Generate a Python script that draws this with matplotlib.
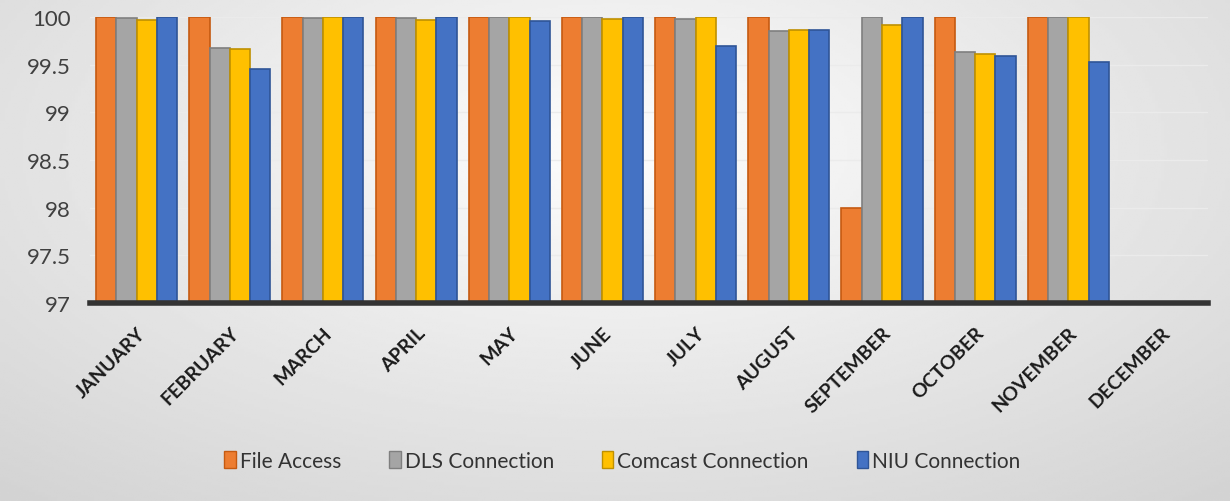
import numpy as np
import matplotlib.pyplot as plt
from matplotlib.patches import Patch

# ----------- Data ------------
months = ["JANUARY", "FEBRUARY", "MARCH", "APRIL", "MAY", "JUNE",
          "JULY", "AUGUST", "SEPTEMBER", "OCTOBER", "NOVEMBER", "DECEMBER"]

# December has no readings yet
file_access = [100, 100, 100, 100, 100, 100, 100, 100, 98.0, 100, 100, np.nan]
dls_connection = [99.99, 99.68, 99.99, 99.99, 100, 100, 99.98, 99.85, 100, 99.63, 100, np.nan]
comcast_connection = [99.97, 99.66, 100, 99.97, 100, 99.98, 100, 99.86, 99.92, 99.61, 100, np.nan]
niu_connection = [100, 99.45, 100, 100, 99.96, 100, 99.70, 99.86, 100, 99.59, 99.53, np.nan]

series = [
    ("File Access", file_access, "#ED7D31", "#C55A11"),
    ("DLS Connection", dls_connection, "#A5A5A5", "#7F7F7F"),
    ("Comcast Connection", comcast_connection, "#FFC000", "#BF9000"),
    ("NIU Connection", niu_connection, "#4472C4", "#2F5597"),
]
# -----------------------------

plt.rcParams["font.family"] = ["Lato", "DejaVu Sans"]

fig = plt.figure(figsize=(12.3, 5.02), dpi=100)

# soft gray backdrop, lighter toward the upper middle
bg = fig.add_axes([0, 0, 1, 1], zorder=-10)
yy, xx = np.mgrid[0:1:200j, 0:1:400j]
r = np.sqrt(((xx - 0.5) / 0.75) ** 2 + ((yy - 0.3) / 0.9) ** 2)
shade = np.clip(0.99 - 0.16 * r, 0.83, 1.0)
bg.imshow(shade, cmap="gray", vmin=0, vmax=1, aspect="auto",
          extent=[0, 1, 0, 1], origin="upper")
bg.set_axis_off()

ax = fig.add_axes([0.0732, 0.3944, 0.9090, 0.5696])
ax.set_facecolor("none")

x = np.arange(len(months))
width = 0.2175
offsets = (np.arange(len(series)) - 1.5) * width

for (label, vals, fc, ec), off in zip(series, offsets):
    vals = np.asarray(vals, dtype=float)
    ax.bar(x + off, vals - 97, width=width, bottom=97, color=fc,
           edgecolor=ec, linewidth=1.2, label=label, zorder=3)

ax.set_ylim(97, 100)
ax.set_xlim(-0.5, len(months) - 0.5)
ax.set_yticks(np.arange(97, 100.01, 0.5))
ax.set_yticklabels(["%g" % v for v in np.arange(97, 100.01, 0.5)])
ax.tick_params(axis="y", length=0, pad=14, labelsize=16, labelcolor="#404040")
ax.tick_params(axis="x", length=0, pad=15)

ax.set_xticks(x)
ax.set_xticklabels(months, rotation=45, ha="right", rotation_mode="anchor",
                   fontsize=14, fontweight="bold", color="#1a1a1a")

ax.grid(axis="y", color="#ebebeb", linewidth=1, zorder=0)
for side in ["top", "right", "left"]:
    ax.spines[side].set_visible(False)
ax.spines["bottom"].set_color("#333333")
ax.spines["bottom"].set_linewidth(4)
ax.spines["bottom"].set_zorder(4)

handles = [Patch(facecolor=fc, edgecolor=ec, label=label)
           for label, _, fc, ec in series]
fig.legend(handles=handles, loc="center", bbox_to_anchor=(0.506, 0.08),
           ncol=4, frameon=False, fontsize=15, handlelength=0.55,
           handleheight=0.9, handletextpad=0.2, columnspacing=2.3,
           labelcolor="#333333")

fig.savefig("out.png", dpi=100)
